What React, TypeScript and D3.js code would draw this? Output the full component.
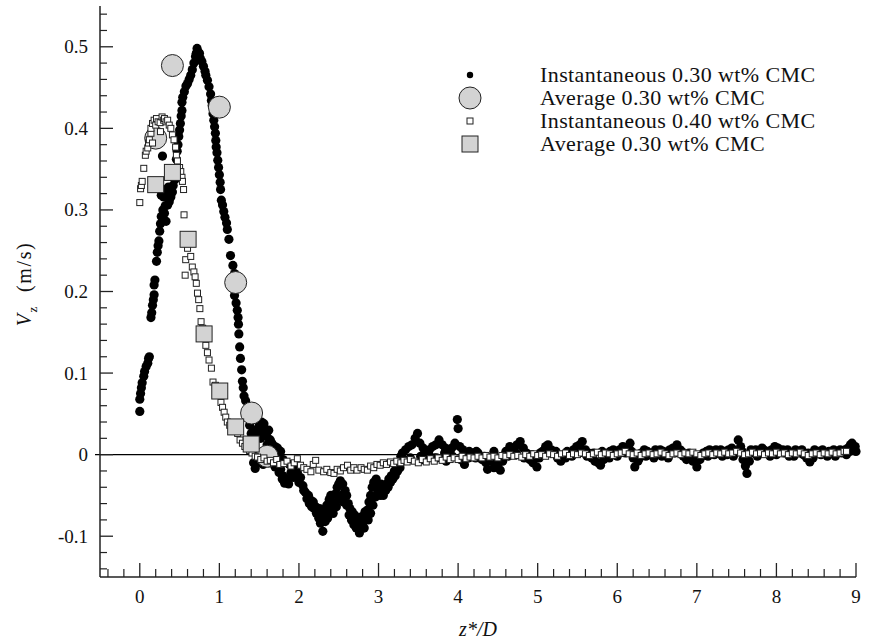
import React from "react";
import * as d3 from "d3";

// Instantaneous 0.30 wt% CMC (black dots)
const inst030: [number, number][] = [
  [0.0, 0.053], [0.0, 0.068], [0.01, 0.075], [0.02, 0.082], [0.03, 0.088], [0.05, 0.096], [0.06, 0.102],
  [0.08, 0.108], [0.1, 0.112], [0.11, 0.118], [0.12, 0.12],
  [0.14, 0.168], [0.15, 0.174], [0.16, 0.183], [0.17, 0.19], [0.18, 0.196], [0.18, 0.208], [0.19, 0.214],
  [0.21, 0.237], [0.22, 0.248], [0.23, 0.256], [0.24, 0.262], [0.25, 0.274], [0.26, 0.283],
  [0.27, 0.292], [0.29, 0.3], [0.31, 0.296], [0.33, 0.286], [0.32, 0.305], [0.35, 0.306], [0.37, 0.31],
  [0.3, 0.316], [0.27, 0.318], [0.29, 0.325], [0.33, 0.32], [0.39, 0.316], [0.41, 0.322], [0.36, 0.328],
  [0.285, 0.366],
  [0.42, 0.33], [0.44, 0.337], [0.45, 0.35], [0.46, 0.362], [0.47, 0.372], [0.48, 0.38], [0.49, 0.39],
  [0.5, 0.398], [0.51, 0.406], [0.52, 0.415], [0.53, 0.422], [0.53, 0.432], [0.54, 0.438], [0.56, 0.445],
  [0.58, 0.452], [0.6, 0.455], [0.62, 0.46], [0.64, 0.465], [0.66, 0.472], [0.68, 0.48], [0.7, 0.488],
  [0.71, 0.492], [0.72, 0.498], [0.73, 0.494], [0.74, 0.488], [0.75, 0.492], [0.76, 0.486], [0.78, 0.482],
  [0.8, 0.476], [0.82, 0.47], [0.83, 0.465], [0.85, 0.459], [0.87, 0.451], [0.89, 0.442], [0.9, 0.434],
  [0.91, 0.428], [0.92, 0.418], [0.93, 0.41], [0.94, 0.402], [0.95, 0.394], [0.955, 0.385], [0.96, 0.377],
  [0.97, 0.37], [0.98, 0.361], [0.99, 0.352], [1.0, 0.343], [1.01, 0.334], [1.015, 0.325], [1.025, 0.312],
  [1.04, 0.306], [1.055, 0.298], [1.07, 0.291], [1.09, 0.284], [1.1, 0.276], [1.12, 0.264], [1.14, 0.244],
  [1.17, 0.232], [1.19, 0.222], [1.2, 0.205], [1.19, 0.195], [1.21, 0.186], [1.225, 0.177], [1.235, 0.168],
  [1.24, 0.16], [1.245, 0.148], [1.255, 0.132], [1.265, 0.118], [1.28, 0.104], [1.29, 0.09], [1.3, 0.082],
  [1.31, 0.072], [1.33, 0.066], [1.36, 0.048], [1.38, 0.036], [1.4, 0.026], [1.42, 0.02], [1.44, 0.026],
  [1.46, 0.03], [1.48, 0.022], [1.5, 0.036], [1.53, 0.04], [1.56, 0.038], [1.58, 0.03], [1.6, 0.022],
  [1.62, 0.03], [1.64, 0.018], [1.66, 0.014], [1.7, 0.01], [1.73, 0.008], [1.77, 0.004],
  [1.46, 0.004], [1.52, 0.02], [1.55, 0.028], [1.6, 0.012], [1.68, 0.006], [1.75, 0.0],
  [1.43, -0.01], [1.45, -0.017], [1.47, -0.008], [1.52, -0.005], [1.55, -0.012], [1.6, -0.004],
  [1.5, -0.01], [1.57, -0.002], [1.62, -0.01], [1.67, -0.006], [1.72, -0.012], [1.77, -0.018],
  [1.8, -0.006], [1.8, -0.026], [1.88, -0.012], [1.92, -0.016], [1.87, -0.036], [1.93, -0.028],
  [1.65, -0.01], [1.7, -0.015], [1.75, -0.022], [1.79, -0.03], [1.82, -0.035], [1.85, -0.03], [1.9, -0.022],
  [1.95, -0.018], [1.98, -0.022], [2.0, -0.034], [2.02, -0.028], [2.05, -0.038], [2.06, -0.044],
  [2.08, -0.046], [2.1, -0.054], [2.12, -0.05], [2.13, -0.06], [2.15, -0.056], [2.16, -0.064],
  [2.18, -0.058], [2.19, -0.066], [2.21, -0.064], [2.22, -0.072], [2.24, -0.07], [2.25, -0.078],
  [2.26, -0.066], [2.27, -0.084], [2.3, -0.094], [2.29, -0.076], [2.32, -0.07], [2.33, -0.082],
  [2.35, -0.062], [2.36, -0.078], [2.37, -0.072], [2.38, -0.055], [2.4, -0.05], [2.4, -0.068],
  [2.42, -0.058], [2.43, -0.072], [2.44, -0.062], [2.46, -0.048], [2.47, -0.064], [2.48, -0.04],
  [2.5, -0.036], [2.5, -0.055], [2.52, -0.032], [2.53, -0.05], [2.55, -0.036], [2.56, -0.058],
  [2.58, -0.044], [2.6, -0.05], [2.6, -0.062], [2.62, -0.06], [2.63, -0.074], [2.64, -0.066],
  [2.66, -0.08], [2.67, -0.07], [2.69, -0.086], [2.7, -0.074], [2.72, -0.08], [2.72, -0.09],
  [2.74, -0.086], [2.76, -0.096], [2.78, -0.09], [2.79, -0.076], [2.8, -0.084], [2.82, -0.09],
  [2.83, -0.07], [2.84, -0.078], [2.86, -0.068], [2.87, -0.08], [2.88, -0.058], [2.9, -0.05],
  [2.9, -0.072], [2.92, -0.04], [2.93, -0.062], [2.94, -0.034], [2.96, -0.052], [2.97, -0.03],
  [2.99, -0.046], [3.0, -0.038], [3.02, -0.05], [3.03, -0.036], [3.04, -0.042], [3.06, -0.05],
  [3.07, -0.038], [3.09, -0.044], [3.1, -0.036], [3.12, -0.04], [3.13, -0.03], [3.15, -0.034],
  [3.16, -0.026], [3.18, -0.03], [3.2, -0.02], [3.21, -0.026], [3.23, -0.014], [3.24, -0.02],
  [3.26, -0.01], [3.27, -0.016], [3.28, -0.002], [3.3, 0.002], [3.32, -0.006], [3.34, 0.006], [3.38, 0.01],
  [3.4, -0.004], [3.42, 0.012], [3.46, 0.02], [3.49, 0.026], [3.52, 0.014], [3.55, -0.006], [3.56, 0.008],
  [3.6, 0.004], [3.64, 0.006], [3.68, 0.01], [3.7, -0.004], [3.72, 0.012], [3.76, 0.018], [3.8, 0.012],
  [3.84, 0.008], [3.85, -0.008], [3.88, 0.004], [3.92, 0.008], [3.96, 0.014], [3.99, 0.043], [4.0, 0.032],
  [4.02, 0.01], [4.06, 0.006], [4.08, -0.012], [4.1, 0.002], [4.14, 0.004], [4.18, 0.002], [4.22, -0.004],
  [4.25, 0.002], [4.3, -0.006], [4.35, -0.01], [4.37, -0.018], [4.4, -0.004], [4.45, 0.004], [4.45, -0.016],
  [4.5, -0.012], [4.53, -0.019], [4.56, -0.008], [4.6, 0.004], [4.65, 0.01], [4.7, 0.006], [4.74, 0.012],
  [4.78, 0.016], [4.82, 0.008], [4.86, 0.002], [4.9, -0.006], [4.94, -0.01], [4.99, -0.015], [5.02, -0.004],
  [5.06, 0.004], [5.1, 0.01], [5.13, 0.012], [5.17, 0.006], [5.21, 0.002], [5.25, -0.004], [5.29, -0.008],
  [5.33, 0.0], [5.37, 0.004], [5.41, 0.002], [5.45, 0.006], [5.49, 0.01], [5.53, 0.012], [5.56, 0.016],
  [5.6, 0.006], [5.64, 0.002], [5.68, -0.004], [5.72, -0.008], [5.76, -0.01], [5.79, -0.013], [5.83, -0.006],
  [5.87, 0.0], [5.91, 0.004], [5.95, 0.006], [5.99, 0.002], [6.03, 0.006], [6.07, 0.01], [6.11, 0.008],
  [6.16, 0.014], [6.2, -0.004], [6.22, -0.015], [6.26, -0.008], [6.3, 0.002], [6.34, 0.006], [6.38, 0.004],
  [6.42, 0.0], [6.46, -0.004], [6.5, 0.002], [6.54, 0.006], [6.58, 0.004], [6.62, 0.002], [6.66, 0.006],
  [6.7, 0.008], [6.75, 0.012], [6.79, 0.006], [6.83, -0.002], [6.87, -0.006], [6.91, -0.004], [6.95, -0.008],
  [7.0, -0.015], [7.04, -0.006], [7.08, 0.002], [7.12, 0.004], [7.16, 0.006], [7.2, 0.004], [7.24, 0.006],
  [7.28, 0.002], [7.32, -0.002], [7.36, 0.004], [7.4, 0.006], [7.44, 0.008], [7.48, 0.004], [7.52, 0.018],
  [7.55, 0.01], [7.58, -0.006], [7.61, -0.014], [7.63, -0.023], [7.66, -0.008], [7.7, 0.002], [7.74, 0.006],
  [7.78, 0.004], [7.82, 0.008], [7.86, 0.002], [7.9, 0.004], [7.94, 0.006], [7.98, 0.01], [8.02, 0.008],
  [8.06, 0.004], [8.1, 0.002], [8.14, 0.006], [8.18, 0.002], [8.22, -0.002], [8.26, 0.004], [8.3, 0.002],
  [8.34, 0.0], [8.38, -0.004], [8.42, -0.009], [8.46, -0.004], [8.5, 0.002], [8.54, 0.004], [8.58, 0.006],
  [8.62, 0.002], [8.66, 0.004], [8.7, 0.002], [8.74, -0.002], [8.78, 0.004], [8.82, 0.002], [8.86, 0.006],
  [8.9, 0.008], [8.93, 0.012], [8.95, 0.014], [8.97, 0.008], [9.0, 0.004],
  [3.53, -0.002], [3.63, 0.0], [3.73, -0.004], [3.83, 0.002], [3.93, -0.002], [4.03, -0.006], [4.13, -0.004],
  [4.23, 0.004], [4.33, -0.002], [4.43, -0.008], [4.53, -0.004], [4.63, -0.002], [4.73, 0.002], [4.83, -0.004],
  [4.93, 0.0], [5.03, 0.002], [5.15, 0.002], [5.23, 0.004], [5.35, -0.004], [5.43, -0.002], [5.52, 0.002],
  [5.62, -0.002], [5.7, 0.002], [5.81, 0.004], [5.9, -0.004], [6.0, -0.002], [6.1, 0.002], [6.18, 0.004],
  [6.28, -0.004], [6.36, -0.002], [6.48, 0.006], [6.56, -0.002], [6.64, -0.004], [6.72, 0.002], [6.81, 0.004],
  [6.9, 0.002], [6.98, -0.004], [7.06, -0.002], [7.14, -0.002], [7.22, 0.0], [7.3, 0.006], [7.38, 0.0],
  [7.46, -0.002], [7.57, 0.004], [7.68, 0.006], [7.76, -0.002], [7.84, 0.006], [7.92, -0.002], [8.0, 0.0],
  [8.08, 0.006], [8.16, -0.002], [8.24, 0.006], [8.32, 0.006], [8.4, 0.002], [8.48, 0.006], [8.56, 0.0],
  [8.64, -0.002], [8.72, 0.006], [8.8, 0.006], [8.88, 0.0], [8.92, 0.004], [8.99, 0.01],
];

// Average 0.30 wt% CMC (grey circles)
const avg030: [number, number][] = [
  [0.2, 0.388], [0.41, 0.477], [1.0, 0.426], [1.205, 0.211], [1.405, 0.051], [1.6, -0.002],
];

// Instantaneous 0.40 wt% CMC (small open squares)
const inst040: [number, number][] = [
  [0.0, 0.309], [0.01, 0.326], [0.02, 0.33], [0.03, 0.335], [0.05, 0.351], [0.07, 0.367], [0.08, 0.372],
  [0.1, 0.376], [0.11, 0.382], [0.12, 0.386], [0.14, 0.394], [0.14, 0.4], [0.16, 0.382], [0.16, 0.406],
  [0.18, 0.41], [0.2, 0.404], [0.21, 0.412], [0.23, 0.408], [0.255, 0.407], [0.26, 0.396], [0.28, 0.414],
  [0.3, 0.41], [0.31, 0.412], [0.33, 0.408], [0.35, 0.41], [0.37, 0.404], [0.39, 0.4], [0.41, 0.392],
  [0.43, 0.386], [0.45, 0.377], [0.46, 0.367], [0.473, 0.36], [0.5, 0.352], [0.515, 0.347], [0.53, 0.34],
  [0.536, 0.335], [0.55, 0.325], [0.556, 0.294], [0.577, 0.239], [0.57, 0.22], [0.6, 0.253], [0.64, 0.243],
  [0.66, 0.23], [0.68, 0.224], [0.695, 0.218], [0.71, 0.21], [0.725, 0.198], [0.74, 0.19], [0.755, 0.179],
  [0.77, 0.163], [0.79, 0.155], [0.83, 0.134], [0.85, 0.125], [0.87, 0.116], [0.9, 0.106], [0.92, 0.089],
  [0.95, 0.085], [0.98, 0.08], [1.02, 0.064], [1.04, 0.058], [1.06, 0.052], [1.08, 0.046], [1.1, 0.04],
  [1.13, 0.036], [1.16, 0.034], [1.23, 0.026], [1.26, 0.018], [1.29, 0.014], [1.32, 0.01], [1.35, 0.008],
  [1.38, 0.005], [1.41, 0.002], [1.45, -0.002], [1.48, -0.003], [1.52, -0.006], [1.56, -0.004],
  [1.6, -0.008], [1.64, -0.007], [1.68, -0.01], [1.72, -0.006], [1.76, -0.012], [1.81, -0.011],
  [1.85, -0.008], [1.9, -0.014], [1.94, -0.01], [1.98, -0.005], [2.02, -0.013], [2.06, -0.016],
  [2.1, -0.018], [2.15, -0.021], [2.18, -0.012], [2.21, -0.007], [2.25, -0.019], [2.31, -0.021],
  [2.35, -0.018], [2.4, -0.022], [2.44, -0.023], [2.48, -0.018], [2.52, -0.02], [2.56, -0.016],
  [2.61, -0.013], [2.65, -0.019], [2.69, -0.016], [2.73, -0.019], [2.78, -0.016], [2.82, -0.018],
  [2.86, -0.019], [2.9, -0.014], [2.94, -0.016], [2.98, -0.012], [3.02, -0.013], [3.06, -0.01],
  [3.1, -0.012], [3.15, -0.009], [3.19, -0.011], [3.23, -0.008], [3.28, -0.01], [3.32, -0.007],
  [3.36, -0.009], [3.4, -0.006], [3.45, -0.008], [3.5, -0.01], [3.55, -0.006], [3.6, -0.009],
  [3.65, -0.005], [3.7, -0.008], [3.75, -0.004], [3.8, -0.007], [3.85, -0.003], [3.9, -0.006],
  [3.95, -0.004], [4.0, -0.006], [4.05, -0.002], [4.1, -0.005], [4.15, -0.003], [4.2, -0.004],
  [4.25, -0.002], [4.3, -0.004], [4.35, -0.001], [4.4, -0.003], [4.45, -0.002], [4.5, -0.004],
  [4.55, -0.001], [4.6, -0.002], [4.65, 0.0], [4.7, -0.002], [4.75, -0.001], [4.8, -0.003], [4.85, 0.0],
  [4.9, -0.002], [4.95, 0.001], [5.0, -0.001], [5.05, 0.0], [5.1, -0.002], [5.15, 0.001], [5.2, 0.0],
  [5.25, -0.002], [5.3, 0.001], [5.35, 0.002], [5.4, -0.001], [5.45, 0.001], [5.5, 0.0], [5.55, 0.002],
  [5.6, 0.001], [5.65, -0.001], [5.7, 0.001], [5.75, 0.003], [5.8, 0.0], [5.85, 0.002], [5.9, 0.001],
  [5.95, -0.001], [6.0, 0.001], [6.05, 0.002], [6.1, 0.004], [6.15, 0.001], [6.2, 0.0], [6.25, 0.002],
  [6.3, -0.001], [6.35, 0.001], [6.4, 0.002], [6.45, 0.0], [6.5, 0.001], [6.55, 0.003], [6.6, 0.001],
  [6.65, -0.001], [6.7, 0.001], [6.75, 0.002], [6.8, 0.0], [6.85, 0.002], [6.9, 0.001], [6.95, 0.003],
  [7.0, 0.001], [7.05, -0.001], [7.1, 0.001], [7.15, 0.002], [7.2, 0.0], [7.25, 0.002], [7.3, 0.001],
  [7.35, 0.003], [7.4, 0.001], [7.45, 0.002], [7.5, 0.004], [7.55, 0.002], [7.6, 0.0], [7.65, 0.001],
  [7.7, 0.003], [7.75, 0.001], [7.8, 0.002], [7.85, 0.0], [7.9, 0.002], [7.95, 0.001], [8.0, 0.003],
  [8.05, 0.001], [8.1, 0.002], [8.15, 0.0], [8.2, 0.002], [8.25, 0.001], [8.3, 0.003], [8.35, 0.001],
  [8.4, -0.001], [8.45, 0.001], [8.5, 0.002], [8.55, 0.0], [8.6, 0.002], [8.65, 0.001], [8.7, 0.003],
  [8.75, 0.001], [8.8, 0.002], [8.85, 0.004], [8.88, 0.004],
];

// Average (grey squares)
const avg030sq: [number, number][] = [
  [0.2, 0.331], [0.41, 0.346], [0.607, 0.264], [0.808, 0.148], [1.005, 0.078], [1.205, 0.034], [1.4, 0.013],
];

const xTicks = [0, 1, 2, 3, 4, 5, 6, 7, 8, 9];
const yTicks = [-0.1, 0, 0.1, 0.2, 0.3, 0.4, 0.5];
const yTickLabels = ["-0.1", "0", "0.1", "0.2", "0.3", "0.4", "0.5"];
const legendLabels = [
  "Instantaneous 0.30 wt% CMC",
  "Average 0.30 wt% CMC",
  "Instantaneous 0.40 wt% CMC",
  "Average 0.30 wt% CMC",
];

const FONT = "'Liberation Serif', 'Times New Roman', serif";

export default function App() {
  const W = 877;
  const H = 644;
  const x = d3.scaleLinear().domain([-0.5, 9]).range([100, 856]);
  const y = d3.scaleLinear().domain([-0.15, 0.55]).range([577, 6]);
  const axisColor = "#222";

  const xMinor = d3.range(-2, 46).map((i) => i * 0.2).filter((v) => Math.abs(v - Math.round(v)) > 1e-6);
  const yMinor = d3.range(-7, 28).map((i) => i * 0.02).filter((v) => Math.abs(v * 10 - Math.round(v * 10)) > 1e-6);

  const fill = "#d3d3d3";
  const legendX = 470;
  const legendTextX = 540;
  const legendY0 = 75;
  const legendDy = 23;

  return (
    <svg width={W} height={H} style={{ position: "absolute", left: 0, top: 0, background: "#fff" }} fontFamily={FONT}>
      {/* zero line */}
      <line x1={95} x2={x(9)} y1={y(0)} y2={y(0)} stroke="#000" strokeWidth={1.3} />

      {/* axes */}
      <line x1={x(-0.5)} x2={x(-0.5)} y1={y(-0.15)} y2={y(0.55)} stroke={axisColor} strokeWidth={1.5} />
      <line x1={x(-0.5)} x2={x(9)} y1={y(-0.15)} y2={y(-0.15)} stroke={axisColor} strokeWidth={1.5} />
      {yTicks.map((t) => (
        <line key={"ym" + t} x1={x(-0.5)} x2={x(-0.5) + 13} y1={y(t)} y2={y(t)} stroke={axisColor} strokeWidth={1.3} />
      ))}
      {yMinor.map((t) => (
        <line key={"yn" + t} x1={x(-0.5)} x2={x(-0.5) + 7} y1={y(t)} y2={y(t)} stroke={axisColor} strokeWidth={1.2} />
      ))}
      {xTicks.map((t) => (
        <line key={"xm" + t} x1={x(t)} x2={x(t)} y1={y(-0.15)} y2={y(-0.15) - 14} stroke={axisColor} strokeWidth={1.3} />
      ))}
      {xMinor.map((t) => (
        <line key={"xn" + t} x1={x(t)} x2={x(t)} y1={y(-0.15)} y2={y(-0.15) - 8} stroke={axisColor} strokeWidth={1.2} />
      ))}
      {yTicks.map((t, i) => (
        <text key={"yl" + t} x={88} y={y(t)} dy="0.34em" textAnchor="end" fontSize={19} fill="#111">
          {yTickLabels[i]}
        </text>
      ))}
      {xTicks.map((t) => (
        <text key={"xl" + t} x={x(t)} y={603} textAnchor="middle" fontSize={19} fill="#111">
          {String(t)}
        </text>
      ))}

      {/* axis titles */}
      <text x={478} y={636} textAnchor="middle" fontSize={20} fontStyle="italic" fill="#111">
        z*/D
      </text>
      <text transform={`translate(31,284) rotate(-90)`} textAnchor="middle" fontSize={20} fill="#111" letterSpacing={1.6}>
        <tspan fontStyle="italic">V</tspan>
        <tspan fontSize={13} dy={6}>z</tspan>
        <tspan dy={-6}>{"\u00a0\u00a0(m/s)"}</tspan>
      </text>

      {/* data */}
      <g>
        {inst030.map((d, i) => (
          <circle key={"a" + i} cx={x(d[0])} cy={y(d[1])} r={4.6} fill="#000" />
        ))}
      </g>
      <g>
        {avg030.map((d, i) => (
          <circle key={"b" + i} cx={x(d[0])} cy={y(d[1])} r={11} fill={fill} stroke="#222" strokeWidth={1} />
        ))}
      </g>
      <g>
        {inst040.map((d, i) => (
          <rect key={"c" + i} x={x(d[0]) - 3} y={y(d[1]) - 3} width={6} height={6} fill="#fff" stroke="#222" strokeWidth={1} />
        ))}
      </g>
      <g>
        {avg030sq.map((d, i) => (
          <rect key={"d" + i} x={x(d[0]) - 8} y={y(d[1]) - 8} width={16} height={16} fill={fill} stroke="#222" strokeWidth={1} />
        ))}
      </g>

      {/* legend */}
      <g>
        <circle cx={legendX} cy={legendY0} r={3.2} fill="#000" />
        <circle cx={legendX} cy={legendY0 + legendDy} r={11} fill={fill} stroke="#222" strokeWidth={1} />
        <rect x={legendX - 3} y={legendY0 + 2 * legendDy - 3} width={6} height={6} fill="#fff" stroke="#222" strokeWidth={1} />
        <rect x={legendX - 8} y={legendY0 + 3 * legendDy - 8} width={16} height={16} fill={fill} stroke="#222" strokeWidth={1} />
        {legendLabels.map((l, i) => (
          <text key={"l" + i} x={legendTextX} y={legendY0 + i * legendDy} dy="0.34em" fontSize={22} fill="#111" letterSpacing={0.4}>
            {l}
          </text>
        ))}
      </g>
    </svg>
  );
}
